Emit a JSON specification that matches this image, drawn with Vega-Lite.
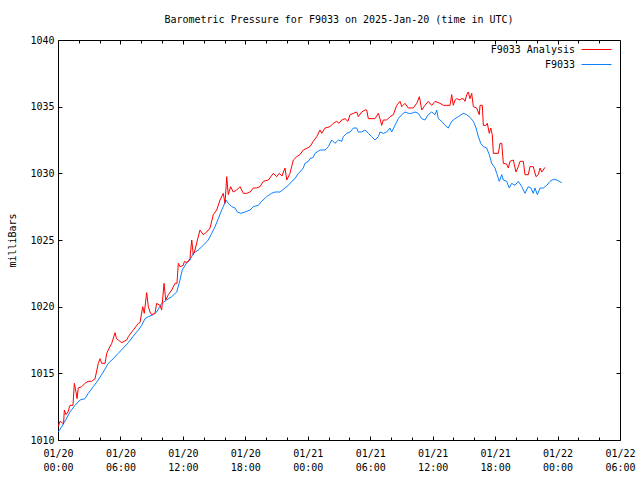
{
  "$schema": "https://vega.github.io/schema/vega-lite/v6.json",
  "width": 562,
  "height": 400,
  "autosize": {"type": "none"},
  "padding": {"left": 58, "top": 40, "right": 20, "bottom": 40},
  "title": {
    "text": "Barometric Pressure for F9033 on 2025-Jan-20 (time in UTC)",
    "font": "DejaVu Sans Mono",
    "fontSize": 10,
    "fontWeight": "normal",
    "color": "black",
    "anchor": "middle",
    "offset": 10
  },
  "config": {
    "view": {"stroke": "black", "strokeWidth": 1},
    "axis": {
      "domain": false,
      "grid": false,
      "tickColor": "black",
      "tickWidth": 1,
      "labelColor": "black",
      "labelFont": "DejaVu Sans Mono",
      "labelFontSize": 10,
      "labelOverlap": false,
      "labelFlush": false,
      "labelBound": false,
      "titleFont": "DejaVu Sans Mono",
      "titleFontSize": 10,
      "titleFontWeight": "normal",
      "titleColor": "black"
    },
    "legend": {
      "labelFont": "DejaVu Sans Mono",
      "labelFontSize": 10,
      "labelColor": "black"
    }
  },
  "data": {
    "values": [
      {"s":"F9033","h":0.03,"mb":1010.62},{"s":"F9033","h":0.36,"mb":1011.0},{"s":"F9033","h":0.58,"mb":1011.3},{"s":"F9033","h":0.84,"mb":1011.65},{"s":"F9033","h":1.15,"mb":1012.1},{"s":"F9033","h":1.63,"mb":1012.6},{"s":"F9033","h":2.11,"mb":1013.0},{"s":"F9033","h":2.59,"mb":1013.1},{"s":"F9033","h":2.91,"mb":1013.5},{"s":"F9033","h":3.39,"mb":1014.0},{"s":"F9033","h":3.87,"mb":1014.5},{"s":"F9033","h":4.35,"mb":1015.1},{"s":"F9033","h":4.83,"mb":1015.75},{"s":"F9033","h":5.31,"mb":1016.1},{"s":"F9033","h":5.79,"mb":1016.5},{"s":"F9033","h":6.27,"mb":1016.9},{"s":"F9033","h":6.76,"mb":1017.3},{"s":"F9033","h":7.24,"mb":1017.8},{"s":"F9033","h":7.72,"mb":1018.25},{"s":"F9033","h":8.04,"mb":1018.6},{"s":"F9033","h":8.36,"mb":1019.1},{"s":"F9033","h":8.68,"mb":1019.25},{"s":"F9033","h":9.16,"mb":1019.4},{"s":"F9033","h":9.48,"mb":1019.6},{"s":"F9033","h":9.96,"mb":1020.25},{"s":"F9033","h":10.44,"mb":1020.5},{"s":"F9033","h":10.93,"mb":1020.75},{"s":"F9033","h":11.41,"mb":1021.1},{"s":"F9033","h":11.72,"mb":1022.0},{"s":"F9033","h":11.94,"mb":1022.75},{"s":"F9033","h":12.37,"mb":1023.3},{"s":"F9033","h":12.68,"mb":1023.5},{"s":"F9033","h":13.0,"mb":1024.0},{"s":"F9033","h":13.48,"mb":1024.25},{"s":"F9033","h":13.96,"mb":1024.6},{"s":"F9033","h":14.44,"mb":1025.0},{"s":"F9033","h":14.77,"mb":1025.5},{"s":"F9033","h":15.09,"mb":1026.0},{"s":"F9033","h":15.4,"mb":1026.6},{"s":"F9033","h":15.73,"mb":1027.25},{"s":"F9033","h":15.88,"mb":1027.5},{"s":"F9033","h":16.14,"mb":1028.0},{"s":"F9033","h":16.36,"mb":1027.75},{"s":"F9033","h":16.69,"mb":1027.5},{"s":"F9033","h":17.01,"mb":1027.4},{"s":"F9033","h":17.23,"mb":1027.1},{"s":"F9033","h":17.56,"mb":1027.0},{"s":"F9033","h":17.97,"mb":1027.1},{"s":"F9033","h":18.45,"mb":1027.25},{"s":"F9033","h":18.77,"mb":1027.5},{"s":"F9033","h":19.25,"mb":1027.6},{"s":"F9033","h":19.57,"mb":1027.9},{"s":"F9033","h":20.05,"mb":1028.25},{"s":"F9033","h":20.53,"mb":1028.5},{"s":"F9033","h":20.85,"mb":1028.6},{"s":"F9033","h":21.33,"mb":1028.6},{"s":"F9033","h":21.81,"mb":1028.9},{"s":"F9033","h":22.13,"mb":1029.1},{"s":"F9033","h":22.46,"mb":1029.4},{"s":"F9033","h":22.77,"mb":1029.6},{"s":"F9033","h":23.09,"mb":1030.0},{"s":"F9033","h":23.25,"mb":1030.1},{"s":"F9033","h":23.57,"mb":1030.4},{"s":"F9033","h":23.73,"mb":1030.75},{"s":"F9033","h":24.05,"mb":1030.9},{"s":"F9033","h":24.21,"mb":1031.1},{"s":"F9033","h":24.53,"mb":1031.2},{"s":"F9033","h":24.7,"mb":1031.5},{"s":"F9033","h":25.18,"mb":1031.75},{"s":"F9033","h":25.66,"mb":1031.75},{"s":"F9033","h":25.97,"mb":1032.0},{"s":"F9033","h":26.3,"mb":1032.5},{"s":"F9033","h":26.62,"mb":1032.25},{"s":"F9033","h":26.94,"mb":1032.5},{"s":"F9033","h":27.26,"mb":1032.4},{"s":"F9033","h":27.41,"mb":1032.75},{"s":"F9033","h":27.74,"mb":1033.0},{"s":"F9033","h":28.06,"mb":1033.1},{"s":"F9033","h":28.38,"mb":1033.4},{"s":"F9033","h":28.7,"mb":1033.4},{"s":"F9033","h":28.86,"mb":1033.1},{"s":"F9033","h":29.18,"mb":1033.1},{"s":"F9033","h":29.5,"mb":1033.25},{"s":"F9033","h":29.82,"mb":1033.0},{"s":"F9033","h":30.14,"mb":1032.75},{"s":"F9033","h":30.46,"mb":1032.5},{"s":"F9033","h":30.78,"mb":1032.75},{"s":"F9033","h":30.94,"mb":1033.1},{"s":"F9033","h":31.26,"mb":1033.0},{"s":"F9033","h":31.58,"mb":1033.1},{"s":"F9033","h":31.9,"mb":1033.4},{"s":"F9033","h":32.06,"mb":1033.1},{"s":"F9033","h":32.38,"mb":1033.6},{"s":"F9033","h":32.7,"mb":1034.1},{"s":"F9033","h":33.03,"mb":1034.4},{"s":"F9033","h":33.34,"mb":1034.6},{"s":"F9033","h":33.66,"mb":1034.5},{"s":"F9033","h":33.99,"mb":1034.5},{"s":"F9033","h":34.3,"mb":1034.6},{"s":"F9033","h":34.62,"mb":1034.5},{"s":"F9033","h":34.95,"mb":1034.1},{"s":"F9033","h":35.26,"mb":1034.0},{"s":"F9033","h":35.58,"mb":1034.4},{"s":"F9033","h":35.91,"mb":1034.6},{"s":"F9033","h":36.23,"mb":1034.4},{"s":"F9033","h":36.39,"mb":1034.75},{"s":"F9033","h":36.54,"mb":1034.1},{"s":"F9033","h":36.87,"mb":1033.9},{"s":"F9033","h":37.19,"mb":1033.6},{"s":"F9033","h":37.5,"mb":1033.4},{"s":"F9033","h":37.83,"mb":1033.9},{"s":"F9033","h":38.15,"mb":1034.1},{"s":"F9033","h":38.46,"mb":1034.25},{"s":"F9033","h":38.94,"mb":1034.5},{"s":"F9033","h":39.27,"mb":1034.4},{"s":"F9033","h":39.59,"mb":1034.2},{"s":"F9033","h":39.91,"mb":1033.9},{"s":"F9033","h":40.17,"mb":1033.4},{"s":"F9033","h":40.39,"mb":1032.75},{"s":"F9033","h":40.62,"mb":1032.25},{"s":"F9033","h":40.87,"mb":1032.0},{"s":"F9033","h":41.19,"mb":1031.9},{"s":"F9033","h":41.44,"mb":1031.4},{"s":"F9033","h":41.67,"mb":1030.75},{"s":"F9033","h":41.99,"mb":1030.4},{"s":"F9033","h":42.15,"mb":1030.0},{"s":"F9033","h":42.4,"mb":1029.4},{"s":"F9033","h":42.64,"mb":1029.9},{"s":"F9033","h":42.79,"mb":1029.5},{"s":"F9033","h":43.11,"mb":1029.4},{"s":"F9033","h":43.36,"mb":1028.9},{"s":"F9033","h":43.59,"mb":1029.25},{"s":"F9033","h":43.91,"mb":1029.1},{"s":"F9033","h":44.23,"mb":1029.4},{"s":"F9033","h":44.56,"mb":1029.0},{"s":"F9033","h":44.87,"mb":1028.5},{"s":"F9033","h":45.19,"mb":1029.0},{"s":"F9033","h":45.45,"mb":1028.9},{"s":"F9033","h":45.67,"mb":1028.5},{"s":"F9033","h":45.83,"mb":1028.9},{"s":"F9033","h":46.06,"mb":1028.4},{"s":"F9033","h":46.32,"mb":1028.9},{"s":"F9033","h":46.63,"mb":1028.9},{"s":"F9033","h":46.96,"mb":1029.1},{"s":"F9033","h":47.28,"mb":1029.4},{"s":"F9033","h":47.59,"mb":1029.55},{"s":"F9033","h":47.92,"mb":1029.5},{"s":"F9033","h":48.4,"mb":1029.3},
      {"s":"F9033 Analysis","h":0.03,"mb":1011.0},{"s":"F9033 Analysis","h":0.19,"mb":1011.4},{"s":"F9033 Analysis","h":0.38,"mb":1011.3},{"s":"F9033 Analysis","h":0.53,"mb":1011.2},{"s":"F9033 Analysis","h":0.61,"mb":1012.25},{"s":"F9033 Analysis","h":0.77,"mb":1011.9},{"s":"F9033 Analysis","h":0.96,"mb":1012.1},{"s":"F9033 Analysis","h":1.15,"mb":1012.6},{"s":"F9033 Analysis","h":1.44,"mb":1012.6},{"s":"F9033 Analysis","h":1.57,"mb":1014.25},{"s":"F9033 Analysis","h":1.73,"mb":1013.6},{"s":"F9033 Analysis","h":1.83,"mb":1013.1},{"s":"F9033 Analysis","h":1.95,"mb":1013.9},{"s":"F9033 Analysis","h":2.28,"mb":1014.0},{"s":"F9033 Analysis","h":2.59,"mb":1014.25},{"s":"F9033 Analysis","h":2.88,"mb":1014.4},{"s":"F9033 Analysis","h":3.24,"mb":1014.4},{"s":"F9033 Analysis","h":3.56,"mb":1014.6},{"s":"F9033 Analysis","h":3.87,"mb":1015.75},{"s":"F9033 Analysis","h":4.04,"mb":1016.1},{"s":"F9033 Analysis","h":4.2,"mb":1015.75},{"s":"F9033 Analysis","h":4.52,"mb":1015.75},{"s":"F9033 Analysis","h":4.68,"mb":1016.5},{"s":"F9033 Analysis","h":4.83,"mb":1016.75},{"s":"F9033 Analysis","h":5.16,"mb":1017.25},{"s":"F9033 Analysis","h":5.48,"mb":1018.05},{"s":"F9033 Analysis","h":5.62,"mb":1017.6},{"s":"F9033 Analysis","h":5.79,"mb":1017.5},{"s":"F9033 Analysis","h":6.12,"mb":1017.3},{"s":"F9033 Analysis","h":6.6,"mb":1017.5},{"s":"F9033 Analysis","h":6.76,"mb":1017.75},{"s":"F9033 Analysis","h":7.08,"mb":1018.1},{"s":"F9033 Analysis","h":7.24,"mb":1018.25},{"s":"F9033 Analysis","h":7.72,"mb":1018.75},{"s":"F9033 Analysis","h":7.88,"mb":1018.8},{"s":"F9033 Analysis","h":8.14,"mb":1020.0},{"s":"F9033 Analysis","h":8.29,"mb":1019.5},{"s":"F9033 Analysis","h":8.52,"mb":1021.05},{"s":"F9033 Analysis","h":8.68,"mb":1020.0},{"s":"F9033 Analysis","h":8.84,"mb":1019.6},{"s":"F9033 Analysis","h":9.0,"mb":1019.4},{"s":"F9033 Analysis","h":9.32,"mb":1019.5},{"s":"F9033 Analysis","h":9.48,"mb":1020.25},{"s":"F9033 Analysis","h":9.8,"mb":1020.1},{"s":"F9033 Analysis","h":9.96,"mb":1019.75},{"s":"F9033 Analysis","h":10.19,"mb":1021.75},{"s":"F9033 Analysis","h":10.35,"mb":1020.5},{"s":"F9033 Analysis","h":10.6,"mb":1020.9},{"s":"F9033 Analysis","h":10.93,"mb":1021.25},{"s":"F9033 Analysis","h":11.24,"mb":1021.75},{"s":"F9033 Analysis","h":11.43,"mb":1021.75},{"s":"F9033 Analysis","h":11.56,"mb":1023.25},{"s":"F9033 Analysis","h":11.72,"mb":1023.0},{"s":"F9033 Analysis","h":12.04,"mb":1023.1},{"s":"F9033 Analysis","h":12.14,"mb":1023.4},{"s":"F9033 Analysis","h":12.4,"mb":1023.3},{"s":"F9033 Analysis","h":12.68,"mb":1023.6},{"s":"F9033 Analysis","h":12.85,"mb":1025.0},{"s":"F9033 Analysis","h":13.0,"mb":1023.9},{"s":"F9033 Analysis","h":13.16,"mb":1024.25},{"s":"F9033 Analysis","h":13.64,"mb":1025.75},{"s":"F9033 Analysis","h":13.96,"mb":1025.4},{"s":"F9033 Analysis","h":14.29,"mb":1025.6},{"s":"F9033 Analysis","h":14.61,"mb":1025.9},{"s":"F9033 Analysis","h":14.92,"mb":1026.9},{"s":"F9033 Analysis","h":15.25,"mb":1027.25},{"s":"F9033 Analysis","h":15.57,"mb":1028.0},{"s":"F9033 Analysis","h":15.88,"mb":1028.5},{"s":"F9033 Analysis","h":16.05,"mb":1027.75},{"s":"F9033 Analysis","h":16.21,"mb":1029.75},{"s":"F9033 Analysis","h":16.36,"mb":1028.4},{"s":"F9033 Analysis","h":16.59,"mb":1029.0},{"s":"F9033 Analysis","h":16.84,"mb":1028.6},{"s":"F9033 Analysis","h":17.17,"mb":1028.75},{"s":"F9033 Analysis","h":17.49,"mb":1029.0},{"s":"F9033 Analysis","h":17.81,"mb":1028.5},{"s":"F9033 Analysis","h":18.13,"mb":1028.5},{"s":"F9033 Analysis","h":18.45,"mb":1028.6},{"s":"F9033 Analysis","h":18.77,"mb":1028.9},{"s":"F9033 Analysis","h":19.09,"mb":1028.9},{"s":"F9033 Analysis","h":19.41,"mb":1029.0},{"s":"F9033 Analysis","h":19.73,"mb":1029.4},{"s":"F9033 Analysis","h":20.21,"mb":1029.5},{"s":"F9033 Analysis","h":20.69,"mb":1030.0},{"s":"F9033 Analysis","h":21.02,"mb":1029.75},{"s":"F9033 Analysis","h":21.26,"mb":1030.0},{"s":"F9033 Analysis","h":21.52,"mb":1029.8},{"s":"F9033 Analysis","h":21.81,"mb":1030.4},{"s":"F9033 Analysis","h":21.98,"mb":1029.5},{"s":"F9033 Analysis","h":22.29,"mb":1030.0},{"s":"F9033 Analysis","h":22.61,"mb":1031.0},{"s":"F9033 Analysis","h":22.94,"mb":1031.25},{"s":"F9033 Analysis","h":23.25,"mb":1031.4},{"s":"F9033 Analysis","h":23.57,"mb":1031.75},{"s":"F9033 Analysis","h":24.21,"mb":1032.0},{"s":"F9033 Analysis","h":24.53,"mb":1032.4},{"s":"F9033 Analysis","h":24.86,"mb":1032.75},{"s":"F9033 Analysis","h":25.18,"mb":1033.25},{"s":"F9033 Analysis","h":25.34,"mb":1033.0},{"s":"F9033 Analysis","h":25.66,"mb":1033.4},{"s":"F9033 Analysis","h":26.14,"mb":1033.5},{"s":"F9033 Analysis","h":26.45,"mb":1033.75},{"s":"F9033 Analysis","h":26.78,"mb":1033.9},{"s":"F9033 Analysis","h":27.0,"mb":1033.75},{"s":"F9033 Analysis","h":27.26,"mb":1034.0},{"s":"F9033 Analysis","h":27.58,"mb":1034.1},{"s":"F9033 Analysis","h":27.86,"mb":1033.9},{"s":"F9033 Analysis","h":28.06,"mb":1034.4},{"s":"F9033 Analysis","h":28.38,"mb":1034.5},{"s":"F9033 Analysis","h":28.7,"mb":1034.6},{"s":"F9033 Analysis","h":28.86,"mb":1034.25},{"s":"F9033 Analysis","h":29.18,"mb":1034.6},{"s":"F9033 Analysis","h":29.5,"mb":1034.75},{"s":"F9033 Analysis","h":29.66,"mb":1034.75},{"s":"F9033 Analysis","h":29.82,"mb":1034.1},{"s":"F9033 Analysis","h":30.46,"mb":1034.1},{"s":"F9033 Analysis","h":30.78,"mb":1034.5},{"s":"F9033 Analysis","h":30.94,"mb":1034.1},{"s":"F9033 Analysis","h":31.1,"mb":1033.6},{"s":"F9033 Analysis","h":31.26,"mb":1034.0},{"s":"F9033 Analysis","h":31.58,"mb":1034.0},{"s":"F9033 Analysis","h":31.9,"mb":1034.25},{"s":"F9033 Analysis","h":32.22,"mb":1034.4},{"s":"F9033 Analysis","h":32.55,"mb":1035.1},{"s":"F9033 Analysis","h":32.86,"mb":1035.4},{"s":"F9033 Analysis","h":33.03,"mb":1035.0},{"s":"F9033 Analysis","h":33.34,"mb":1035.25},{"s":"F9033 Analysis","h":33.66,"mb":1034.9},{"s":"F9033 Analysis","h":34.14,"mb":1034.9},{"s":"F9033 Analysis","h":34.47,"mb":1035.25},{"s":"F9033 Analysis","h":34.72,"mb":1035.75},{"s":"F9033 Analysis","h":34.95,"mb":1034.75},{"s":"F9033 Analysis","h":35.26,"mb":1035.1},{"s":"F9033 Analysis","h":35.58,"mb":1035.4},{"s":"F9033 Analysis","h":35.91,"mb":1035.1},{"s":"F9033 Analysis","h":36.23,"mb":1035.4},{"s":"F9033 Analysis","h":36.71,"mb":1035.25},{"s":"F9033 Analysis","h":37.02,"mb":1035.1},{"s":"F9033 Analysis","h":37.67,"mb":1035.1},{"s":"F9033 Analysis","h":37.83,"mb":1035.9},{"s":"F9033 Analysis","h":37.98,"mb":1035.1},{"s":"F9033 Analysis","h":38.15,"mb":1035.5},{"s":"F9033 Analysis","h":38.31,"mb":1035.6},{"s":"F9033 Analysis","h":38.63,"mb":1035.5},{"s":"F9033 Analysis","h":38.79,"mb":1035.6},{"s":"F9033 Analysis","h":38.94,"mb":1035.6},{"s":"F9033 Analysis","h":39.11,"mb":1035.4},{"s":"F9033 Analysis","h":39.27,"mb":1035.9},{"s":"F9033 Analysis","h":39.42,"mb":1036.1},{"s":"F9033 Analysis","h":39.59,"mb":1035.6},{"s":"F9033 Analysis","h":39.75,"mb":1036.0},{"s":"F9033 Analysis","h":39.91,"mb":1035.0},{"s":"F9033 Analysis","h":40.23,"mb":1034.9},{"s":"F9033 Analysis","h":40.48,"mb":1034.4},{"s":"F9033 Analysis","h":40.55,"mb":1035.1},{"s":"F9033 Analysis","h":40.77,"mb":1035.1},{"s":"F9033 Analysis","h":40.87,"mb":1033.6},{"s":"F9033 Analysis","h":41.13,"mb":1033.6},{"s":"F9033 Analysis","h":41.25,"mb":1033.75},{"s":"F9033 Analysis","h":41.44,"mb":1033.0},{"s":"F9033 Analysis","h":41.58,"mb":1033.4},{"s":"F9033 Analysis","h":41.73,"mb":1032.9},{"s":"F9033 Analysis","h":41.83,"mb":1031.5},{"s":"F9033 Analysis","h":42.31,"mb":1031.5},{"s":"F9033 Analysis","h":42.47,"mb":1032.25},{"s":"F9033 Analysis","h":42.64,"mb":1032.25},{"s":"F9033 Analysis","h":42.79,"mb":1030.75},{"s":"F9033 Analysis","h":43.11,"mb":1030.7},{"s":"F9033 Analysis","h":43.27,"mb":1030.4},{"s":"F9033 Analysis","h":43.43,"mb":1030.9},{"s":"F9033 Analysis","h":43.75,"mb":1031.0},{"s":"F9033 Analysis","h":44.0,"mb":1030.1},{"s":"F9033 Analysis","h":44.23,"mb":1030.5},{"s":"F9033 Analysis","h":44.39,"mb":1030.9},{"s":"F9033 Analysis","h":44.71,"mb":1030.9},{"s":"F9033 Analysis","h":44.87,"mb":1029.9},{"s":"F9033 Analysis","h":45.19,"mb":1029.9},{"s":"F9033 Analysis","h":45.35,"mb":1030.5},{"s":"F9033 Analysis","h":45.67,"mb":1030.5},{"s":"F9033 Analysis","h":45.93,"mb":1029.75},{"s":"F9033 Analysis","h":46.15,"mb":1029.9},{"s":"F9033 Analysis","h":46.32,"mb":1030.4},{"s":"F9033 Analysis","h":46.48,"mb":1030.1},{"s":"F9033 Analysis","h":46.8,"mb":1030.45}
    ]
  },
  "resolve": {"axis": {"x": "independent", "y": "independent"}},
  "layer": [
    {
      "mark": {"type": "line", "strokeWidth": 1, "interpolate": "linear"},
      "encoding": {
        "x": {
          "field": "h", "type": "quantitative",
          "scale": {"domain": [0, 54], "nice": false, "zero": false},
          "axis": {
            "orient": "bottom", "title": null,
            "values": [0, 6, 12, 18, 24, 30, 36, 42, 48, 54],
            "tickSize": -4, "labelPadding": 12, "labelLineHeight": 14,
            "labelExpr": "['01/' + (20 + floor(datum.value/24)), (datum.value % 24 < 10 ? '0' : '') + (datum.value % 24) + ':00']"
          }
        },
        "y": {
          "field": "mb", "type": "quantitative",
          "scale": {"domain": [1010, 1040], "nice": false, "zero": false},
          "axis": {
            "orient": "left", "title": "milliBars", "format": "d",
            "values": [1010, 1015, 1020, 1025, 1030, 1035, 1040],
            "tickSize": -4, "labelPadding": 8, "titlePadding": 12
          }
        },
        "color": {
          "field": "s", "type": "nominal",
          "scale": {"domain": ["F9033 Analysis", "F9033"], "range": ["#ff0000", "#0a80ff"]},
          "legend": {
            "title": null,
            "orient": "none",
            "legendX": 533,
            "legendY": 4,
            "padding": 0,
            "symbolType": "M-3,0H3",
            "symbolSize": 100,
            "symbolStrokeWidth": 1,
            "labelAlign": "right",
            "labelOffset": -27,
            "rowPadding": 4
          }
        }
      }
    },
    {
      "mark": {"type": "line", "strokeWidth": 1, "opacity": 0},
      "encoding": {
        "detail": {"field": "s"},
        "x": {
          "field": "h", "type": "quantitative",
          "axis": {
            "orient": "bottom", "title": null, "labels": false,
            "values": [2, 4, 8, 10, 14, 16, 20, 22, 26, 28, 32, 34, 38, 40, 44, 46, 50, 52],
            "tickSize": -3
          }
        },
        "y": {
          "field": "mb", "type": "quantitative",
          "axis": {
            "orient": "right", "title": null, "labels": false,
            "values": [1015, 1020, 1025, 1030, 1035],
            "tickSize": -4
          }
        }
      }
    },
    {
      "mark": {"type": "line", "strokeWidth": 1, "opacity": 0},
      "encoding": {
        "detail": {"field": "s"},
        "x": {
          "field": "h", "type": "quantitative",
          "axis": {
            "orient": "top", "title": null, "labels": false,
            "values": [6, 12, 18, 24, 30, 36, 42, 48],
            "tickSize": -4
          }
        },
        "y": {"field": "mb", "type": "quantitative", "axis": null}
      }
    },
    {
      "mark": {"type": "line", "strokeWidth": 1, "opacity": 0},
      "encoding": {
        "detail": {"field": "s"},
        "x": {
          "field": "h", "type": "quantitative",
          "axis": {
            "orient": "top", "title": null, "labels": false,
            "values": [2, 4, 8, 10, 14, 16, 20, 22, 26, 28, 32, 34, 38, 40, 44, 46, 50, 52],
            "tickSize": -3
          }
        },
        "y": {"field": "mb", "type": "quantitative", "axis": null}
      }
    }
  ]
}
